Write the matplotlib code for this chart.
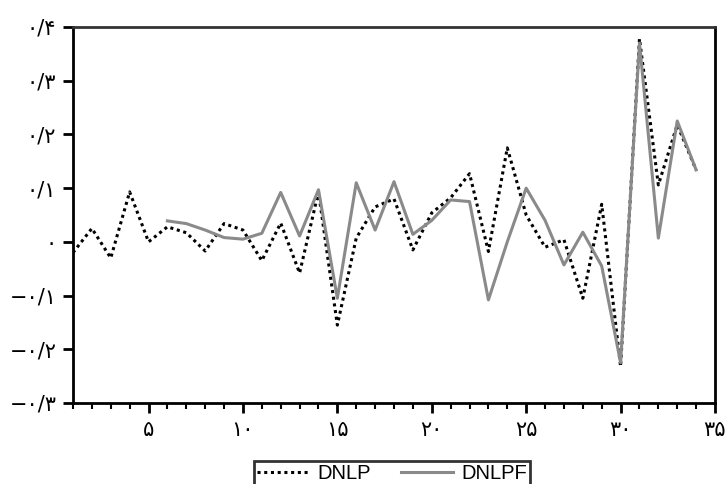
import numpy as np
import matplotlib
matplotlib.use("Agg")
import matplotlib.pyplot as plt
from matplotlib.ticker import MultipleLocator

# series values
t_dnlp = list(range(1, 35))
dnlp = [-0.02, 0.025, -0.03, 0.093, 0.0, 0.028, 0.017, -0.017, 0.034, 0.022,
        -0.035, 0.035, -0.058, 0.093, -0.155, 0.007, 0.065, 0.08, -0.015, 0.054,
        0.082, 0.127, -0.018, 0.175, 0.05, -0.01, 0.004, -0.105, 0.07, -0.232,
        0.378, 0.106, 0.218, 0.134]

t_dnlpf = list(range(6, 35))
dnlpf = [0.039, 0.034, 0.022, 0.008, 0.005, 0.016, 0.092, 0.011, 0.097, -0.105,
         0.11, 0.022, 0.112, 0.014, 0.04, 0.078, 0.075, -0.108, 0.0, 0.1,
         0.04, -0.043, 0.018, -0.045, -0.225, 0.37, 0.007, 0.225, 0.134]

# persian tick labels
xticks = [5, 10, 15, 20, 25, 30, 35]
xlabels = ["۵", "۱۰", "۱۵", "۲۰", "۲۵", "۳۰", "۳۵"]
yticks = [0.4, 0.3, 0.2, 0.1, 0.0, -0.1, -0.2, -0.3]
ylabels = ["۰/۴", "۰/۳", "۰/۲", "۰/۱", "۰", "−۰/۱", "−۰/۲", "−۰/۳"]

fig = plt.figure(figsize=(7.25, 4.84), dpi=100)
ax = fig.add_axes([73 / 725, 1 - 403 / 484, 642 / 725, 376 / 484])

ax.plot(t_dnlp, dnlp, color="black", linestyle=(0, (1, 1.2)), linewidth=2.2, label="DNLP")
ax.plot(t_dnlpf, dnlpf, color="#8a8a8a", linestyle="-", linewidth=2.2, label="DNLPF")

ax.set_xlim(1, 35)
ax.set_ylim(-0.3, 0.4)
ax.set_xticks(xticks)
ax.set_xticklabels(xlabels, fontsize=15)
ax.xaxis.set_minor_locator(MultipleLocator(1))
ax.set_yticks(yticks)
ax.set_yticklabels(ylabels, fontsize=15)

ax.tick_params(axis="both", which="major", direction="out", length=7, width=2, pad=5)
ax.tick_params(axis="x", which="minor", direction="out", length=4, width=1.5)
for s in ax.spines.values():
    s.set_linewidth(2)
ax.spines["top"].set_color("#333333")

leg = fig.legend(loc="upper center", bbox_to_anchor=(392 / 725, 1 - 451 / 484), ncol=2,
                 frameon=True, fancybox=False, edgecolor="black", handlelength=2.6,
                 columnspacing=1.5, handletextpad=0.4, borderpad=0.15,
                 prop={"family": "Liberation Sans", "size": 14.5})
leg.get_frame().set_linewidth(2)

fig.savefig("out.png", dpi=100)
